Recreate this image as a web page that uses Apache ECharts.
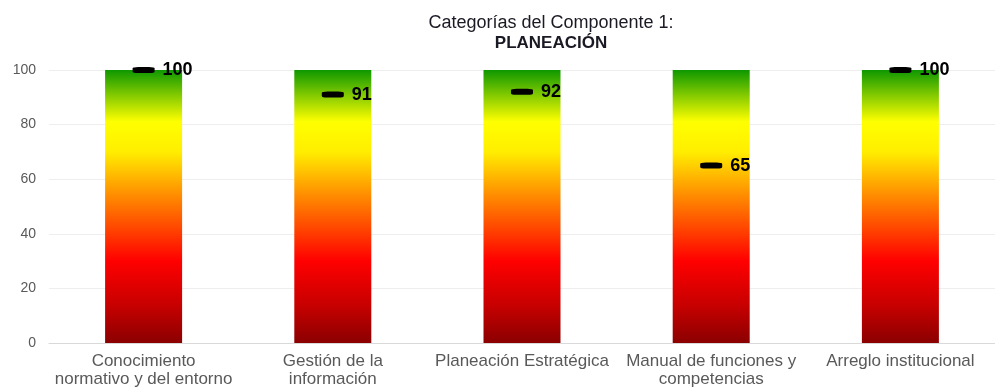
<!DOCTYPE html>
<html>
<head>
<meta charset="utf-8">
<style>
  html, body { margin: 0; padding: 0; background: #ffffff; }
  #chart { width: 995px; height: 388px; }
</style>
<script src="https://cdn.jsdelivr.net/npm/echarts@6/dist/echarts.min.js"></script>
</head>
<body>
<div id="chart"></div>
<script>
// Categories of component 1 and their scores
const categories = [
  'Conocimiento\nnormativo y del entorno',
  'Gestión de la\ninformación',
  'Planeación Estratégica',
  'Manual de funciones y\ncompetencias',
  'Arreglo institucional'
];
const scores = [100, 91, 92, 65, 100];
// Full scale drawn behind each score (0 to 100)
const scaleMax = [100, 100, 100, 100, 100];
const yTicks = [0, 20, 40, 60, 80, 100];

const font = '"Liberation Sans", Arial, sans-serif';

const chart = echarts.init(document.getElementById('chart'), null, { renderer: 'canvas' });

const gradient = new echarts.graphic.LinearGradient(0, 0, 0, 1, [
  { offset: 0.00, color: '#0e9800' },
  { offset: 0.19, color: '#ffff00' },
  { offset: 0.30, color: '#ffee00' },
  { offset: 0.46, color: '#ff8c00' },
  { offset: 0.70, color: '#ff0000' },
  { offset: 0.86, color: '#c80000' },
  { offset: 1.00, color: '#8b0000' }
]);

chart.setOption({
  animation: false,
  backgroundColor: '#ffffff',
  title: {
    left: 546,
    textAlign: 'center',
    top: 8,
    text: '{a|Categorías del Componente 1:}\n{b|PLANEACIÓN}',
    textStyle: {
      fontWeight: 'normal',
      rich: {
        a: { fontFamily: font, fontSize: 18, fontWeight: 'normal', color: '#1a1a24', lineHeight: 20 },
        b: { fontFamily: font, fontSize: 17, fontWeight: 'bold', color: '#1a1a24', lineHeight: 20 }
      }
    }
  },
  grid: { left: 49, right: -1, top: 70, bottom: 44, containLabel: false },
  xAxis: {
    type: 'category',
    data: categories,
    axisLine: { show: true, lineStyle: { color: '#d9d9d9', width: 1 } },
    axisTick: { show: false },
    axisLabel: {
      interval: 0,
      margin: 9,
      fontFamily: font,
      fontSize: 17,
      lineHeight: 18,
      color: '#595959'
    }
  },
  yAxis: {
    type: 'value',
    min: yTicks[0],
    max: yTicks[yTicks.length - 1],
    interval: yTicks[1] - yTicks[0],
    axisLine: { show: false },
    axisTick: { show: false },
    axisLabel: { margin: 13, fontFamily: font, fontSize: 14, color: '#595959' },
    splitLine: { show: true, lineStyle: { color: '#eeeeee', width: 1 } }
  },
  series: [
    {
      name: 'Escala',
      type: 'bar',
      data: scaleMax,
      barWidth: 77,
      itemStyle: { color: gradient },
      silent: true,
      z: 1
    },
    {
      name: 'Puntaje',
      type: 'scatter',
      data: scores,
      symbol: 'roundRect',
      symbolSize: [22, 6],
      itemStyle: { color: '#000000', opacity: 1 },
      label: {
        show: true,
        position: 'right',
        distance: 8,
        fontFamily: font,
        fontSize: 18,
        fontWeight: 'bold',
        color: '#000000',
        opacity: 1
      },
      z: 3
    }
  ]
});
</script>
</body>
</html>
